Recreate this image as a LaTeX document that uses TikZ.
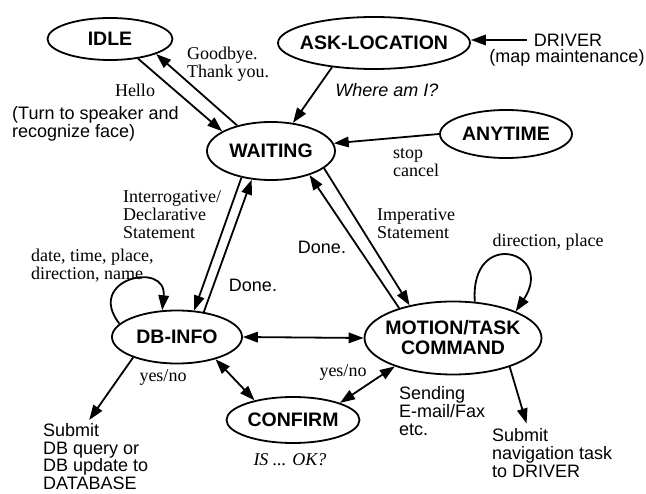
\documentclass[tikz,border=0pt]{standalone}
\usepackage{fontspec}
\setmainfont{Liberation Serif}
\setsansfont{Liberation Sans}
\usetikzlibrary{shapes.geometric,arrows.meta,calc}
\begin{document}
\begin{tikzpicture}[x=1pt,y=-1pt,
  state/.style={ellipse, draw, line width=1.8pt, inner sep=0pt, align=center,
    font=\sffamily\bfseries\fontsize{19.5}{20}\selectfont},
  arr/.style={line width=1.8pt, -{Triangle[length=15pt,width=10.5pt]}},
  darr/.style={line width=1.8pt, {Triangle[length=15pt,width=10.5pt]}-{Triangle[length=15pt,width=10.5pt]}},
  rmtxt/.style={font=\rmfamily\fontsize{18}{18}\selectfont, align=left, inner sep=0pt},
  sftxt/.style={font=\sffamily\fontsize{18}{18}\selectfont, align=left, inner sep=0pt}]
\useasboundingbox (0,0) rectangle (646,494);

% states
\node[state, minimum width=125pt, minimum height=42pt] (idle) at (110,39) {IDLE};
\node[state, minimum width=192pt, minimum height=52pt, inner xsep=-8pt] (ask) at (374,43) {ASK-LOCATION};
\node[state, minimum width=128pt, minimum height=58pt] (waiting) at (271,151) {WAITING};
\node[state, minimum width=132pt, minimum height=48pt] (anytime) at (506,134) {ANYTIME};
\node[state, minimum width=130pt, minimum height=53pt] (dbinfo) at (177,337) {DB-INFO};
\node[state, minimum width=177pt, minimum height=73pt, inner xsep=-8pt] (motion) at (453,338) {MOTION/TASK\\COMMAND};
\node[state, minimum width=133pt, minimum height=46pt] (confirm) at (293,420) {CONFIRM};

% texts
\node[rmtxt] (hello) at (135,90) {Hello};
\node[sftxt, anchor=north west] (turn) at (12,106.5) {(Turn to speaker and\\recognize face)};
\node[rmtxt, anchor=north west] (goodbye) at (187,46.5) {Goodbye.\\Thank you.};
\node[sftxt, font=\sffamily\itshape\fontsize{18}{18}\selectfont] (where) at (387,90) {Where am I?};
\node[sftxt] (driver) at (568,40) {DRIVER};
\node[sftxt] (mapm) at (567,58) {(map maintenance)};
\node[rmtxt, anchor=north west] (stop) at (393,148.5) {stop\\cancel};
\node[rmtxt, anchor=north west] (interrog) at (123,190.5) {Interrogative/\\Declarative\\Statement};
\node[rmtxt, anchor=north west] (datetime) at (31,248.5) {date, time, place,\\direction, name};
\node[sftxt] (doneA) at (253,285) {Done.};
\node[sftxt] (doneB) at (322,247) {Done.};
\node[rmtxt, anchor=north west] (imper) at (377,208.5) {Imperative\\Statement};
\node[rmtxt] (dirplace) at (548,242) {direction, place};
\node[rmtxt] (yesnoA) at (163,378) {yes/no};
\node[rmtxt] (yesnoB) at (343,373) {yes/no};
\node[rmtxt, font=\rmfamily\itshape\fontsize{18}{18}\selectfont] (isok) at (290,460) {IS ... OK?};
\node[sftxt, anchor=north west, font=\sffamily\fontsize{18}{17.8}\selectfont] (dbsubmit) at (43,423) {Submit\\DB query or\\DB update to\\DATABASE};
\node[sftxt, anchor=north west] (sending) at (399,386.5) {Sending\\E-mail/Fax\\etc.};
\node[sftxt, anchor=north west] (navsubmit) at (492,428.5) {Submit\\navigation task\\to DRIVER};

% connectors
\draw[arr] (idle.-35) -- (waiting.158);
\draw[arr] (waiting.143) -- (idle.-18);
\draw[arr] (ask.210) -- (waiting.52);
\draw[arr] ([xshift=-7pt]driver.west) -- (driver.west -| ask.east);
\draw[arr] (anytime.west) -- (waiting.7);
\draw[arr] (waiting.222) -- (dbinfo.57);
\draw[arr] (dbinfo.43) -- (waiting.236);
\draw[arr] (waiting.-18) -- (motion.143);
\draw[arr] (motion.151) -- (waiting.-32);
\draw[darr] (dbinfo.east) -- (motion.west);
\draw[darr] (dbinfo.-30) -- (confirm.153);
\draw[darr] (confirm.20) -- (motion.206.6);
\draw[arr] (dbinfo.205.5) -- ([yshift=3pt]dbsubmit.101);
\draw[arr] (motion.-27) -- ([yshift=5pt]navsubmit.136);
\draw[arr] (dbinfo.167) .. controls +(-35,-45) and +(5,-50) .. (dbinfo.119);
\draw[arr] (motion.59) .. controls +(-5,-75) and +(40,-60) .. (motion.23);
\end{tikzpicture}
\end{document}
